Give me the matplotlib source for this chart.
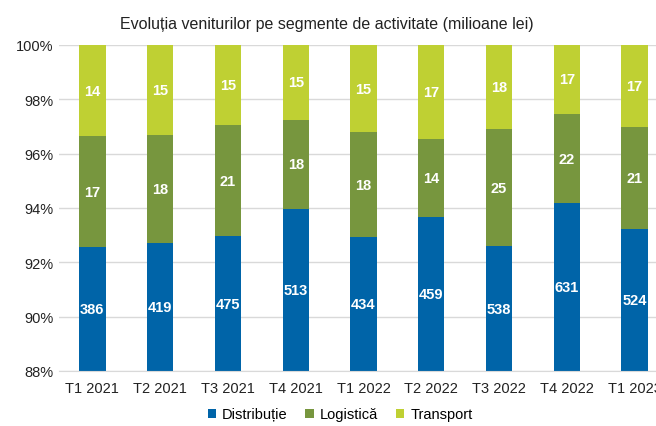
import matplotlib
matplotlib.use("Agg")
import matplotlib.pyplot as plt
import numpy as np

plt.rcParams["font.family"] = ["Liberation Sans", "DejaVu Sans"]

categories = ["T1 2021", "T2 2021", "T3 2021", "T4 2021", "T1 2022",
              "T2 2022", "T3 2022", "T4 2022", "T1 2023"]
distributie = [386, 419, 475, 513, 434, 459, 538, 631, 524]
logistica = [17, 18, 21, 18, 18, 14, 25, 22, 21]
transport = [14, 15, 15, 15, 15, 17, 18, 17, 17]

series = [("Distribuție", distributie, "#0064A8"),
          ("Logistică", logistica, "#77963E"),
          ("Transport", transport, "#BFD033")]

YMIN, YMAX = 88, 100

fig = plt.figure(figsize=(6.56, 4.27), dpi=100)
# plot area runs a little past the right edge, like the cropped original
ax = fig.add_axes([58.5 / 656, 1 - 372 / 427, 610 / 656, 326 / 427])

x = np.arange(len(categories))
total = np.array(distributie) + np.array(logistica) + np.array(transport)
bottom = np.zeros(len(categories))
for name, vals, color in series:
    pct = np.array(vals) / total * 100
    ax.bar(x, pct, 0.39, bottom=bottom, color=color, label=name, zorder=2)
    for xi, b, p, v in zip(x, bottom, pct, vals):
        lo = max(b, YMIN)
        hi = b + p
        ax.text(xi, (lo + hi) / 2, str(v), ha="center", va="center",
                color="white", fontsize=10.5, fontweight="bold", zorder=3)
    bottom += pct

ax.set_ylim(YMIN, YMAX)
ax.set_xlim(-0.5, len(categories) - 0.5)
ax.set_yticks(range(88, 101, 2))
ax.set_yticklabels([f"{t}%" for t in range(88, 101, 2)])
ax.set_xticks(x)
ax.set_xticklabels(categories)
ax.tick_params(axis="both", length=0, labelsize=10.5, colors="#222222")
ax.tick_params(axis="x", pad=7)
ax.grid(axis="y", color="#D9D9D9", linewidth=1, zorder=0)
for s in ["top", "right", "left"]:
    ax.spines[s].set_visible(False)
ax.spines["bottom"].set_color("#D9D9D9")

ax.set_title("Evoluția veniturilor pe segmente de activitate (milioane lei)",
             fontsize=11.5, color="#222222", pad=12, x=(327 - 58.5) / 610)

fig.legend(loc="lower center", bbox_to_anchor=(340 / 656, -0.02), ncol=3,
           frameon=False, fontsize=10.5, handlelength=0.6, handleheight=0.6,
           handletextpad=0.4, columnspacing=1.2)

fig.savefig("out.png", dpi=100)
